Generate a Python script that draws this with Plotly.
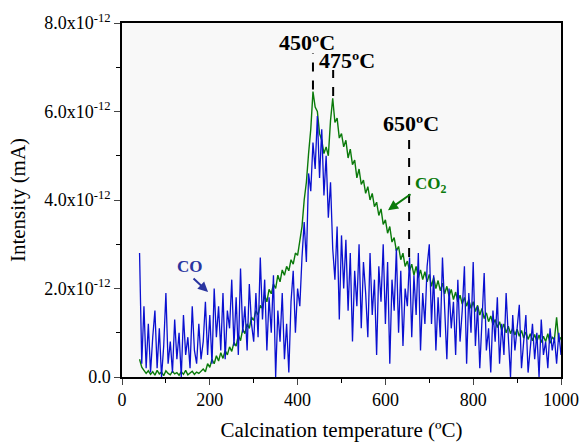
import plotly.graph_objects as go

# temperature grid (degC)
temperature = list(range(40, 1001, 5))

# CO2 signal, units of 1e-12 mA
co2 = [0.40, 0.22, 0.15, 0.08, 0.14,
       0.06, 0.12, 0.04, 0.15, 0.07, 0.11, 0.03, 0.14, 0.08, 0.05, 0.13, 0.07, 0.10, 0.04, 0.12, 0.06, 0.15, 0.05, 0.09, 0.13, 0.06, 0.11, 0.08, 0.14,
       0.18, 0.12, 0.30, 0.22, 0.40, 0.30, 0.48, 0.36, 0.55, 0.42, 0.60, 0.50, 0.68, 0.58, 0.78, 0.70, 0.95, 0.82, 1.08, 0.98, 1.20, 1.10, 1.35, 1.28,
       1.50, 1.40, 1.62, 1.55, 1.85, 1.70, 1.98, 1.88, 2.10, 2.00, 2.30, 2.15, 2.42, 2.30, 2.50, 2.40, 2.65, 2.55, 2.80, 2.75,
       3.05, 3.40, 4.00, 4.40, 5.05, 5.60, 6.45, 6.10,
       6.00, 5.50, 5.35, 5.05, 5.20, 5.00, 5.80, 6.30, 5.75, 5.85, 5.40, 5.50,
       5.20, 5.35, 4.95, 5.15, 4.80, 4.90, 4.50, 4.70, 4.35, 4.45, 4.15, 4.30, 4.00, 4.15, 3.85, 3.95, 3.65, 3.80, 3.45, 3.55,
       3.25, 3.40, 3.05, 3.15, 2.85, 2.95, 2.65, 2.80, 2.50, 2.62, 2.40, 2.55, 2.30, 2.50, 2.25, 2.42, 2.20, 2.38, 2.15, 2.32,
       2.05, 2.25, 2.00, 2.18, 1.95, 2.12, 1.88, 2.05, 1.82, 1.98, 1.75, 1.92, 1.70, 1.85, 1.65, 1.80, 1.60, 1.75, 1.55, 1.70,
       1.48, 1.62, 1.40, 1.55, 1.32, 1.45, 1.25, 1.38, 1.18, 1.30, 1.12, 1.25, 1.05, 1.20, 1.00, 1.15, 0.98, 1.10, 0.95, 1.08,
       0.92, 1.05, 0.88, 1.02, 0.85, 0.98, 0.82, 0.96, 0.80, 0.95, 0.78, 0.92, 0.80, 0.98, 0.76, 0.90, 0.85, 1.35, 0.80, 0.90]

# CO signal, units of 1e-12 mA
co = [2.8, 0.3, 1.6, 0.2, 1.2, 0.1, 0.9, 1.5, 0.2, 1.1, 0.0, 0.7, 1.9, 0.3, 0.8, 0.1, 1.3, 0.4, 1.0, 0.0, 1.4, 0.5, 0.9, 0.2, 1.6, 0.6, 0.3, 1.2, 0.4,
      0.8, 1.7, 0.5, 1.4, 0.3, 2.0, 0.9, 1.6, 0.6, 1.9, 0.4, 1.5, 1.1, 2.2, 0.7, 1.8, 0.5, 2.45, 1.0, 1.6, 0.6, 2.1, 1.2, 0.8,
      1.9, 0.9, 2.7, 1.3, 2.2, 0.6, 1.8, 1.0, 2.3, 0.0, 1.5, 0.8, 1.9, 0.4, 1.2, 0.1, 1.7, 2.4, 1.0, 2.0,
      1.6, 2.7, 3.5, 2.6, 4.6, 4.2, 5.3, 4.7,
      5.9, 4.5, 5.6, 4.1, 5.0, 3.6, 4.4, 2.9, 2.2, 3.4, 1.3, 3.2,
      2.0, 3.1, 1.5, 2.8, 0.8, 2.4, 1.6, 3.0, 1.1, 2.6, 1.9, 0.9, 2.8, 1.4, 2.2, 0.5, 2.5, 1.7, 3.0, 1.2,
      2.6, 0.3, 2.2, 1.5, 2.9, 1.0, 2.4, 0.7, 2.0, 1.6, 2.7, 0.9, 2.3, 1.4, 2.8, 0.6, 1.9, 1.2, 2.5, 3.0,
      1.2, 2.3, 0.6, 1.8, 0.9, 2.7, 1.4, 0.4, 2.0, 1.1, 1.7, 0.5, 2.2, 0.8, 1.5, 2.5, 0.3, 1.9, 1.0, 2.6,
      0.7, 1.6, 0.2, 1.3, 2.35, 0.6, 1.1, 0.1, 1.5, 0.8, 1.8, 0.3, 1.2, 0.5, 1.9, 0.9, 0.0, 1.4, 0.6, 1.1,
      1.63, 0.2, 0.9, 1.4, 0.1, 0.7, 1.2, 0.4, 1.0, 0.0, 1.3, 0.5, 0.8, 0.2, 1.1, 0.6, 0.9, 0.3, 1.0, 0.5]

SCALE = 1e-12
y_ticks = [0, 2, 4, 6, 8]
y_ticktext = ["0.0", "2.0x10<sup>-12</sup>", "4.0x10<sup>-12</sup>", "6.0x10<sup>-12</sup>", "8.0x10<sup>-12</sup>"]
x_ticks = [0, 200, 400, 600, 800, 1000]

# peak markers: (x, y_top, y_bottom, label, label_x, label_y)
peaks = [(435, 7.32, 6.50, "450ºC", 421, 7.57),
         (481, 6.94, 6.35, "475ºC", 512, 7.16),
         (654, 5.51, 2.71, "650ºC", 658, 5.74)]

FONT = "Liberation Serif, Times New Roman, serif"
GREEN = "#0a7a0a"
BLUE = "#0a10d0"
NAVY = "#2a35a0"

fig = go.Figure()
fig.add_trace(go.Scatter(x=temperature, y=[v * SCALE for v in co2], mode="lines",
                         line=dict(color=GREEN, width=1.4), name="CO2"))
fig.add_trace(go.Scatter(x=temperature, y=[v * SCALE for v in co], mode="lines",
                         line=dict(color=BLUE, width=1.3), name="CO"))

for px_, yt, yb, lab, lx, ly in peaks:
    fig.add_shape(type="line", x0=px_, x1=px_, y0=yb * SCALE, y1=yt * SCALE,
                  line=dict(color="black", width=2, dash="dash"), layer="above")
    fig.add_annotation(x=lx, y=ly * SCALE, text="<b>" + lab + "</b>", showarrow=False,
                       font=dict(family=FONT, size=22, color="black"))

fig.add_annotation(x=606, y=3.77 * SCALE, ax=24, ay=-17, showarrow=True, text="",
                   arrowhead=2, arrowsize=1, arrowwidth=2, arrowcolor=GREEN)
fig.add_annotation(x=704, y=4.34 * SCALE, text="<b>CO<sub>2</sub></b>", showarrow=False,
                   font=dict(family=FONT, size=17, color=GREEN))
fig.add_annotation(x=196, y=1.92 * SCALE, ax=-16, ay=-15, showarrow=True, text="",
                   arrowhead=2, arrowsize=1, arrowwidth=2, arrowcolor=NAVY)
fig.add_annotation(x=155, y=2.49 * SCALE, text="<b>CO</b>", showarrow=False,
                   font=dict(family=FONT, size=17, color=NAVY))

fig.update_layout(
    width=582, height=442,
    margin=dict(l=122, r=21, t=23, b=65, autoexpand=False),
    paper_bgcolor="white", plot_bgcolor="#f8f8f8",
    showlegend=False,
    font=dict(family=FONT, size=18, color="black"),
)
fig.update_xaxes(range=[0, 1000], tickvals=x_ticks, ticks="outside", ticklen=6, tickwidth=1.2,
                 showline=True, linecolor="black", linewidth=1.5, mirror=True, showgrid=False, zeroline=False,
                 minor=dict(ticks="outside", ticklen=4, dtick=100, tickcolor="black"),
                 title=dict(text="Calcination temperature (ºC)", font=dict(size=21), standoff=14),
                 tickfont=dict(size=18), automargin=False)
fig.update_yaxes(range=[0, 8 * SCALE], tickvals=[v * SCALE for v in y_ticks], ticktext=y_ticktext,
                 ticks="outside", ticklen=6, tickwidth=1.2,
                 showline=True, linecolor="black", linewidth=1.5, mirror=True, showgrid=False, zeroline=False,
                 minor=dict(ticks="outside", ticklen=4, dtick=1 * SCALE, tickcolor="black"),
                 title=dict(text="Intensity (mA)", font=dict(size=21), standoff=13),
                 tickfont=dict(size=18), automargin=False)

fig.write_html("out.html")
